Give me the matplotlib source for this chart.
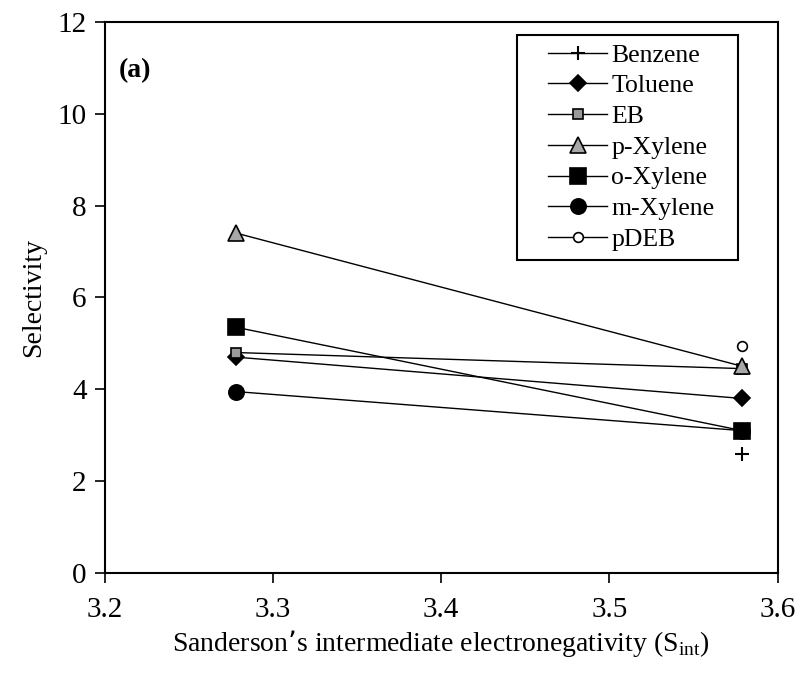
import numpy as np
import matplotlib
matplotlib.use("Agg")
import matplotlib.pyplot as plt
from matplotlib.patches import Rectangle

plt.rcParams['font.family'] = ['Liberation Serif', 'DejaVu Serif']

x_vals = [3.278, 3.579]
series_names = ["Benzene", "Toluene", "EB", "p-Xylene", "o-Xylene", "m-Xylene", "pDEB"]
benzene = [np.nan, 2.6]
toluene = [4.7, 3.8]
eb = [4.8, 4.45]
p_xylene = [7.4, 4.5]
o_xylene = [5.35, 3.1]
m_xylene = [3.95, 3.1]
pdeb = [np.nan, 4.95]

values = [benzene, toluene, eb, p_xylene, o_xylene, m_xylene, pdeb]
markers = ['+', 'D', 's', '^', 's', 'o', 'o']
msizes = [10, 8, 7, 12, 11, 11, 7]
faces = ['black', 'black', '#9a9a9a', '#a8a8a8', 'black', 'black', 'white']
zorders = [3, 3, 3, 5, 4, 3, 3]

fig = plt.figure(figsize=(8, 6.79), dpi=100)
ax = fig.add_axes([0.131, 0.156, 0.841, 0.812])

for name, v, m, ms, fc, z in zip(series_names, values, markers, msizes, faces, zorders):
    ax.plot(x_vals, v, color='black', lw=1.0, marker=m, markersize=ms,
            markerfacecolor=fc, markeredgecolor='black',
            markeredgewidth=1.2 if m != '+' else 1.5,
            label=name, zorder=z)

ax.set_xlim(3.2, 3.6)
ax.set_ylim(0, 12)
ax.set_xticks([3.2, 3.3, 3.4, 3.5, 3.6])
ax.set_xticklabels(["3.2", "3.3", "3.4", "3.5", "3.6"])
ax.set_yticks([0, 2, 4, 6, 8, 10, 12])
ax.tick_params(axis='both', labelsize=21, direction='out', length=7, width=1.2)
ax.tick_params(axis='x', pad=10)
ax.tick_params(axis='y', pad=6)
for s in ax.spines.values():
    s.set_linewidth(1.5)

ax.set_xlabel("Sanderson\u2019s intermediate electronegativity (S$_{\\mathregular{int}}$)",
              fontsize=20, labelpad=4)
ax.set_ylabel("Selectivity", fontsize=20, labelpad=8)

ax.text(0.02, 0.9, "(a)", transform=ax.transAxes, fontsize=20, fontweight='bold')

leg_right, leg_top, leg_left = 0.9405, 0.9764, 0.612
leg = ax.legend(loc='upper right', bbox_to_anchor=(leg_right - 0.021, leg_top), fontsize=18.5,
                frameon=False, handlelength=2.3, labelspacing=0.3,
                borderpad=0.35, handletextpad=0.15, borderaxespad=0)

fig.canvas.draw()
bb = leg.get_window_extent(fig.canvas.get_renderer())
(x0a, y0a) = ax.transAxes.inverted().transform((bb.x0, bb.y0))
frame = Rectangle((leg_left, y0a), leg_right - leg_left, leg_top - y0a,
                  transform=ax.transAxes, fill=True, facecolor='white',
                  edgecolor='black', lw=1.5, zorder=6)
ax.add_patch(frame)
leg.set_zorder(7)

fig.savefig("out.png", dpi=100)
